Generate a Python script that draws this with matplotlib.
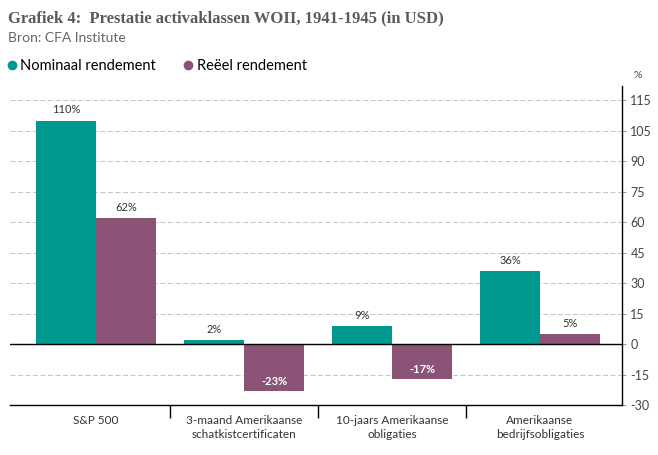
import numpy as np
import matplotlib.pyplot as plt
from matplotlib.lines import Line2D

categories = ['S&P 500', '3-maand Amerikaanse\nschatkistcertificaten',
              '10-jaars Amerikaanse\nobligaties', 'Amerikaanse\nbedrijfsobligaties']
nominaal = [110, 2, 9, 36]
reeel = [62, -23, -17, 5]
series_names = ['Nominaal rendement', 'Reëel rendement']
y_ticks = [-30, -15, 0, 15, 30, 45, 60, 75, 90, 105, 120]
y_labels = ['-30', '-15', '0', '15', '30', '45', '60', '75', '90', '105', '115']

teal = '#00998f'
purple = '#8b5477'
txt = '#333333'

plt.rcParams['font.family'] = ['Lato', 'DejaVu Sans']

fig = plt.figure(figsize=(6.58, 4.55), dpi=100)
ax = fig.add_axes([10 / 658, 50 / 455, 612 / 658, 319 / 455])

x = np.arange(len(categories))
w = 0.405
b1 = ax.bar(x - w / 2, nominaal, w, color=teal, zorder=3)
b2 = ax.bar(x + w / 2, reeel, w, color=purple, zorder=3)

for bars, vals in [(b1, nominaal), (b2, reeel)]:
    for r, v in zip(bars, vals):
        cx = r.get_x() + r.get_width() / 2
        if v >= 0:
            ax.text(cx, v + 2.5, '%d%%' % v, ha='center', va='bottom', fontsize=8, color=txt)
        else:
            ax.text(cx, v + 2, '%d%%' % v, ha='center', va='bottom', fontsize=8,
                    color='white', fontweight='bold')

ax.set_xlim(-0.581, 3.554)
ax.set_ylim(-30, 127)
ax.axhline(0, color='black', lw=1, zorder=4)

ax.set_yticks(y_ticks)
ax.set_yticklabels(y_labels)
ax.grid(axis='y', color='#bbbbbb', ls=(0, (6, 3)), lw=0.6, zorder=0)
ax.yaxis.tick_right()
ax.tick_params(axis='y', length=3, width=0.6, color='#888888', labelsize=9,
               labelcolor='#444444', pad=3)

ax.set_xticks(x)
ax.set_xticklabels(categories, fontsize=8.5, color=txt, linespacing=1.35)
ax.set_xticks([0.5, 1.5, 2.5], minor=True)
ax.tick_params(axis='x', which='major', length=0, pad=7)
ax.tick_params(axis='x', which='minor', length=9, width=1, color='black')

for s in ['left', 'top']:
    ax.spines[s].set_visible(False)
ax.spines['right'].set_linewidth(1)
ax.spines['bottom'].set_linewidth(1)

fig.text(633 / 658, 1 - 75 / 455, '%', fontsize=7.5, color='#444444', va='center')

fig.text(8 / 658, 1 - 18 / 455, 'Grafiek 4:  Prestatie activaklassen WOII, 1941-1945 (in USD)',
         family=['Liberation Serif', 'DejaVu Serif'], fontweight='bold', fontsize=12,
         color='#5a5a5a', va='center')
fig.text(8 / 658, 1 - 38 / 455, 'Bron: CFA Institute', fontsize=10, color='#666666', va='center')

handles = [Line2D([], [], marker='o', ls='', color=c, markersize=6) for c in [teal, purple]]
fig.legend(handles, series_names, loc='center left', bbox_to_anchor=(0, 1 - 66 / 455),
           ncol=2, frameon=False, fontsize=10.5, handletextpad=0.1, columnspacing=1.7,
           handlelength=1.0, borderaxespad=0, borderpad=0.3)

fig.savefig('out.png', dpi=100)
